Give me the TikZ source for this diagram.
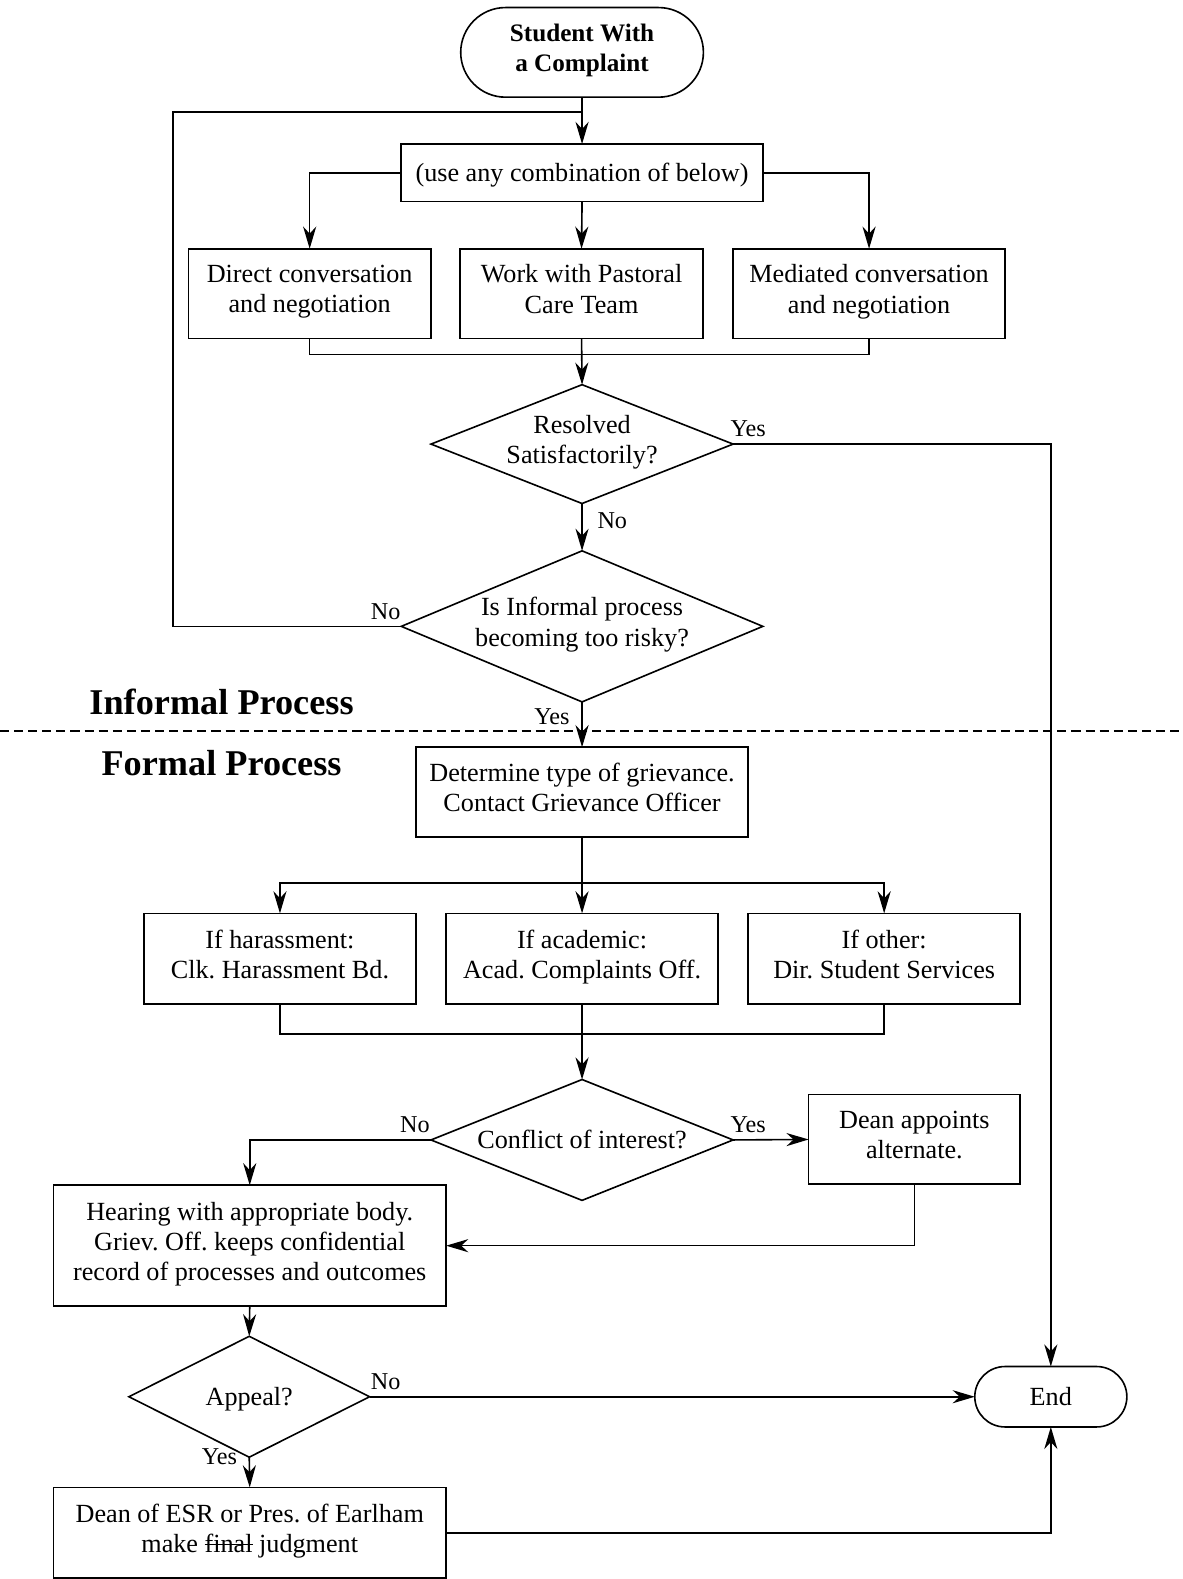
\documentclass[tikz,border=0pt]{standalone}
\usepackage{fontspec}
\setmainfont{Liberation Serif}
\usetikzlibrary{shapes.geometric,shapes.misc,arrows.meta}
\newsavebox\mystrkbox
\newcommand\mystrk[1]{\sbox\mystrkbox{#1}\rlap{\usebox\mystrkbox}\rule[0.27em]{\wd\mystrkbox}{0.05em}}
\newcommand\mytopstrut{\rule{0pt}{26pt}}
\newcommand\mybotstrut{\rule[-9pt]{0pt}{9pt}}
\frenchspacing
\begin{document}
\begin{tikzpicture}[x=1pt,y=-1pt,
  line width=1.6pt,
  every node/.style={font=\fontsize{26}{30}\selectfont, inner sep=0pt, outer sep=0pt},
  txt/.style={align=center, execute at begin node=\mytopstrut, execute at end node=\mybotstrut},
  box/.style={draw, rectangle, txt},
  term/.style={draw, rounded rectangle, txt},
  dia/.style={draw, diamond},
  lbl/.style={font=\fontsize{24}{28}\selectfont},
  head/.style={font=\fontsize{36}{40}\selectfont\bfseries},
  arr/.style={-{Stealth[length=22pt,width=13pt,inset=7pt]}},
  sep/.style={line width=1.4pt, dash pattern=on 9pt off 5pt}
]
\useasboundingbox (0,0) rectangle (1174,1568);

% ---- nodes
\node[term, minimum width=241, minimum height=89, font=\fontsize{25}{30}\selectfont\bfseries] (start) at (578,52) {Student With\\a Complaint};
\node[box, minimum width=359, minimum height=57] (use) at (578,171.5) {(use any combination of below)};
\node[box, minimum width=241, minimum height=89] (b1) at (307.5,291.5) {Direct conversation\\and negotiation};
\node[box, minimum width=241, minimum height=89] (b2) at (577.5,291.5) {Work with Pastoral\\Care Team};
\node[box, minimum width=270, minimum height=89] (b3) at (863,291.5) {Mediated conversation\\and negotiation};

\node[dia, minimum width=300, minimum height=118] (d1) at (578,441) {};
\node[txt] (d1t) at (d1.center) {Resolved\\Satisfactorily?};
\node[dia, minimum width=359, minimum height=150] (d2) at (578,622) {};
\node[txt] (d2t) at (d2.center) {Is Informal process\\becoming too risky?};

\node[head] (hinf) at (220,697) {Informal Process};
\node[head] (hfor) at (220,758) {Formal Process};

\node[box, minimum width=330, minimum height=89] (det) at (578,786.5) {Determine type of grievance.\\Contact Grievance Officer};
\node[box, minimum width=270, minimum height=90] (b4) at (278,952) {If harassment:\\Clk. Harassment Bd.};
\node[box, minimum width=270, minimum height=90] (b5) at (578,952) {If academic:\\Acad. Complaints Off.};
\node[box, minimum width=270, minimum height=90] (b6) at (878,952) {If other:\\Dir. Student Services};

\node[dia, minimum width=300, minimum height=120] (d3) at (578,1132) {};
\node[txt] (d3t) at (d3.center) {Conflict of interest?};
\node[box, minimum width=210, minimum height=89] (dean) at (908,1131.5) {Dean appoints\\alternate.};
\node[box, minimum width=390, minimum height=120] (hear) at (248,1237) {Hearing with appropriate body.\\Griev. Off. keeps confidential\\record of processes and outcomes};
\node[dia, minimum width=239, minimum height=120] (d4) at (247.5,1387) {};
\node[txt] (d4t) at (d4.center) {Appeal?};
\node[term, minimum width=151, minimum height=60] (end) at (1043.5,1387) {End};
\node[box, minimum width=390, minimum height=90] (fin) at (248,1522) {Dean of ESR or Pres. of Earlham\\make \mystrk{final} judgment};

% ---- labels
\node[lbl] (l1) at (743,426) {Yes};
\node[lbl] (l2) at (608,517) {No};
\node[lbl] (l3) at (383,607) {No};
\node[lbl] (l4) at (548,712) {Yes};
\node[lbl] (l5) at (412,1117) {No};
\node[lbl] (l6) at (743,1117) {Yes};
\node[lbl] (l7) at (383,1372) {No};
\node[lbl] (l8) at (218,1447) {Yes};

% ---- helper coordinates
\coordinate (j0) at (578,111);
\coordinate (lp) at (172,622);
\coordinate (j1) at (578,352);
\coordinate (j2) at (578,877);
\coordinate (j3) at (578,1027);
\coordinate (sl) at (0,726);
\coordinate (sr) at (1174,726);

% ---- connectors
\draw (d2.west) -- (lp) |- (j0);
\draw[arr] (start.south) -- (use.north);
\draw[arr] (use.west) -| (b1.north);
\draw[arr] (use.east) -| (b3.north);
\draw[arr] (use.south) -- (b2.north);
\draw (b1.south) |- (j1) -| (b3.south);
\draw[arr] (b2.south) -- (d1.north);
\draw[arr] (d1.east) -| (end.north);
\draw[arr] (d1.south) -- (d2.north);
\draw[arr] (d2.south) -- (det.north);
\draw (det.south) -- (j2);
\draw[arr] (j2) -| (b4.north);
\draw[arr] (j2) -| (b6.north);
\draw[arr] (j2) -- (b5.north);
\draw (b4.south) |- (j3) -| (b6.south);
\draw (b5.south) -- (j3);
\draw[arr] (j3) -- (d3.north);
\draw[arr] (d3.east) -- (dean.west);
\draw[arr] (d3.west) -| (hear.north);
\draw[arr] (dean.south) |- (hear.east);
\draw[arr] (hear.south) -- (d4.north);
\draw[arr] (d4.east) -- (end.west);
\draw[arr] (d4.south) -- (fin.north);
\draw[arr] (fin.east) -| (end.south);
\draw[sep] (sl) -- (sr);
\end{tikzpicture}
\end{document}
